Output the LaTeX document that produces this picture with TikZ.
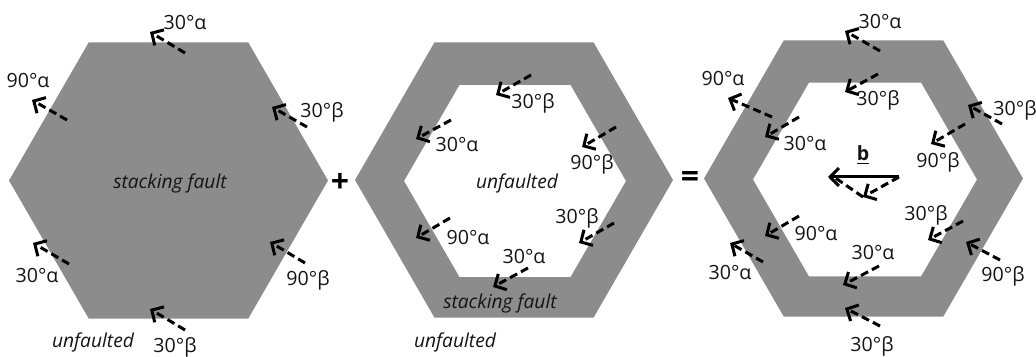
\documentclass[tikz,border=0pt]{standalone}
\usepackage{fontspec}
\setmainfont{Open Sans}
\usetikzlibrary{arrows.meta}
\definecolor{sfgray}{RGB}{140,140,140}
\definecolor{ink}{RGB}{20,20,20}
\tikzset{
  tip/.style={-{Straight Barb[length=4.4pt,width=9pt,line width=1.5pt]}},
  disl/.style={line width=1.5pt, dash pattern=on 4pt off 2.2pt, tip},
  lbl/.style={font=\fontsize{9.8}{12}\selectfont, text=ink, inner sep=0pt},
  region/.style={font=\itshape\fontsize{9.6}{12}\selectfont, text=ink, inner sep=0pt},
  opsign/.style={font=\bfseries\fontsize{16}{16}\selectfont, inner sep=0pt}
}
% dislocation segment: name, tail, head, label position, label text
\newcommand\dislo[5]{%
  \coordinate (#1s) at (#2);
  \coordinate (#1e) at (#3);
  \draw[disl] (#1s) -- (#1e);
  \node[lbl] (#1l) at (#4) {#5};}
% flat-topped hexagon path: centre x, centre y, radius
\newcommand\hexpath[3]{%
  (#1+#3,#2) -- (#1+0.5*#3,#2-0.866*#3) -- (#1-0.5*#3,#2-0.866*#3)
  -- (#1-#3,#2) -- (#1-0.5*#3,#2+0.866*#3) -- (#1+0.5*#3,#2+0.866*#3) -- cycle}

\begin{document}
\begin{tikzpicture}[x=0.5pt,y=-0.5pt]
\useasboundingbox (0,0) rectangle (1036,357);

% ---------- faulted hexagon ----------
\fill[sfgray] \hexpath{168.5}{180.5}{159.5};
\node[region] (sf1) at (170,183) {stacking fault};
\node[region] (uf1) at (93,342) {unfaulted};
\dislo{a1}{185,53}{150,32}{185,22}{30°α}
\dislo{a2}{67,120}{32,100}{28,80}{90°α}
\dislo{a3}{307,127}{272,107}{322,112}{30°β}
\dislo{a4}{69,264}{33,243}{37,275}{30°α}
\dislo{a5}{305,263}{270,242}{308,280}{90°β}
\dislo{a6}{185,330}{150,309}{175,347}{30°β}

\node[opsign] (plus) at (340,183) {+};

% ---------- faulted ring ----------
\fill[sfgray, even odd rule] \hexpath{514}{180}{159} \hexpath{515}{181}{111};
\node[region] (uf2) at (517,183) {unfaulted};
\node[region] (sf2) at (500,303) {stacking fault};
\node[region] (uf3) at (455,342) {unfaulted};
\dislo{b1}{531,75}{496,95}{533,103}{30°β}
\dislo{b2}{451,120}{416,139}{457,144}{30°α}
\dislo{b3}{616,127}{582,147}{592,164}{90°β}
\dislo{b4}{450,218}{416,238}{468,237}{90°α}
\dislo{b5}{614,223}{579,243}{577,218}{30°β}
\dislo{b6}{528,268}{493,287}{524,256}{30°α}

\node[opsign] (equals) at (690,180) {=};

% ---------- sum ----------
\fill[sfgray, even odd rule] \hexpath{863.5}{178.5}{159.5} \hexpath{865}{179.5}{112};
\dislo{c1}{880,51}{845,31}{880,21}{30°α}
\dislo{c2}{772,117}{728,98}{723,78}{90°α}
\dislo{c3}{1002,124}{968,105}{1015,110}{30°β}
\dislo{c4}{763,262}{730,243}{730,272}{30°α}
\dislo{c5}{1000,260}{966,242}{1003,276}{90°β}
\dislo{c6}{880,326}{845,308}{872,346}{30°β}
\dislo{d1}{878,74}{845,92}{878,100}{30°β}
\dislo{d2}{799,117}{765,137}{805,143}{30°α}
\dislo{d3}{965,124}{931,144}{938,162}{90°β}
\dislo{d4}{799,216}{765,236}{816,233}{90°α}
\dislo{d5}{963,221}{928,240}{926,215}{30°β}
\dislo{d6}{879,266}{843,285}{873,252}{30°α}

% Burgers vector and its partials
\coordinate (bt) at (899,177);
\coordinate (bh) at (828,177);
\coordinate (bm) at (863,197);
\node[lbl, font=\bfseries\fontsize{9.8}{12}\selectfont] (bl) at (863,155) {\underline{b}};
\draw[line width=1.5pt, tip] (bt) -- (bh);
\draw[disl] (bt) -- (bm);
\draw[line width=1.5pt, dash pattern=on 4pt off 2.2pt] (bm) -- ([xshift=3pt]bh);
\end{tikzpicture}
\end{document}
